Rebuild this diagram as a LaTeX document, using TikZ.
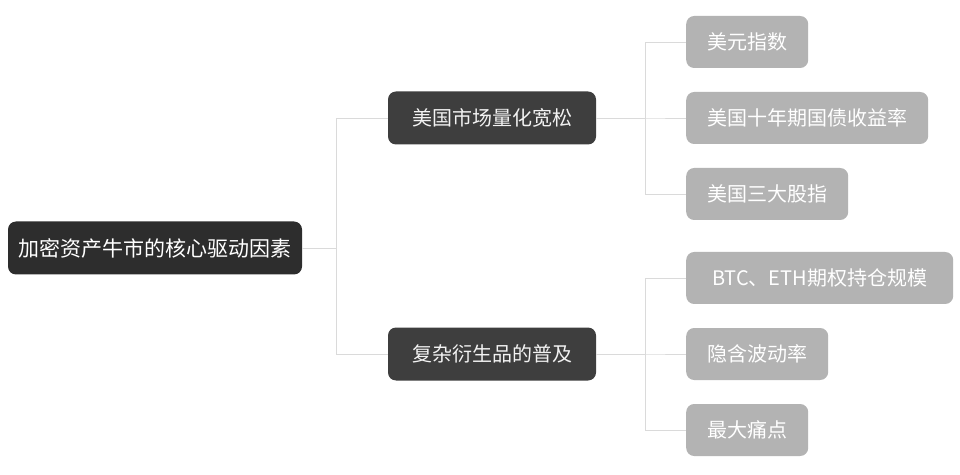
\documentclass[tikz,border=0pt]{standalone}
\usepackage{fontspec}
\setmainfont{Noto Sans CJK SC}
\usetikzlibrary{positioning}

\definecolor{rootgray}{HTML}{2D2D2D}
\definecolor{topicgray}{HTML}{3E3E3E}
\definecolor{leafgray}{HTML}{B3B3B3}
\definecolor{linegray}{HTML}{DADADA}

\begin{document}
\begin{tikzpicture}[x=1pt, y=1pt,
  root/.style={fill=rootgray, text=white, rounded corners=8pt, minimum height=53pt, minimum width=294pt, font=\fontsize{21}{24}\selectfont},
  topic/.style={fill=topicgray, text=white!95!black, rounded corners=8pt, minimum height=53pt, minimum width=208pt, font=\fontsize{20}{24}\selectfont},
  leaf/.style={fill=leafgray, text=white, rounded corners=8pt, minimum height=52pt, inner xsep=21pt, anchor=west, font=\fontsize{20}{24}\selectfont},
  link/.style={draw=linegray, line width=0.9pt}]
  \useasboundingbox (0,0) rectangle (960,474);

  \node[root] (core) at (155,226) {加密资产牛市的核心驱动因素};

  \node[topic] (qe) at (492,356) {美国市场量化宽松};
  \node[topic] (deriv) at (492,120) {复杂衍生品的普及};

  \node[leaf] (dxy) at (686,432) {美元指数};
  \node[leaf] (bond) at (686,356) {美国十年期国债收益率};
  \node[leaf] (index) at (686,280) {美国三大股指};

  \node[leaf, minimum width=267pt] (oi) at (686,196) {BTC、ETH期权持仓规模};
  \node[leaf] (iv) at (686,120) {隐含波动率};
  \node[leaf] (pain) at (686,44) {最大痛点};

  % root to topics
  \draw[link] (core.east) -- ++(34,0) |- (qe.west);
  \draw[link] (core.east) -- ++(34,0) |- (deriv.west);

  % topics to leaves
  \foreach \t in {dxy, bond, index}
    \draw[link] (qe.east) -- ++(49,0) |- (\t.west);
  \foreach \t in {oi, iv, pain}
    \draw[link] (deriv.east) -- ++(49,0) |- (\t.west);
\end{tikzpicture}
\end{document}
